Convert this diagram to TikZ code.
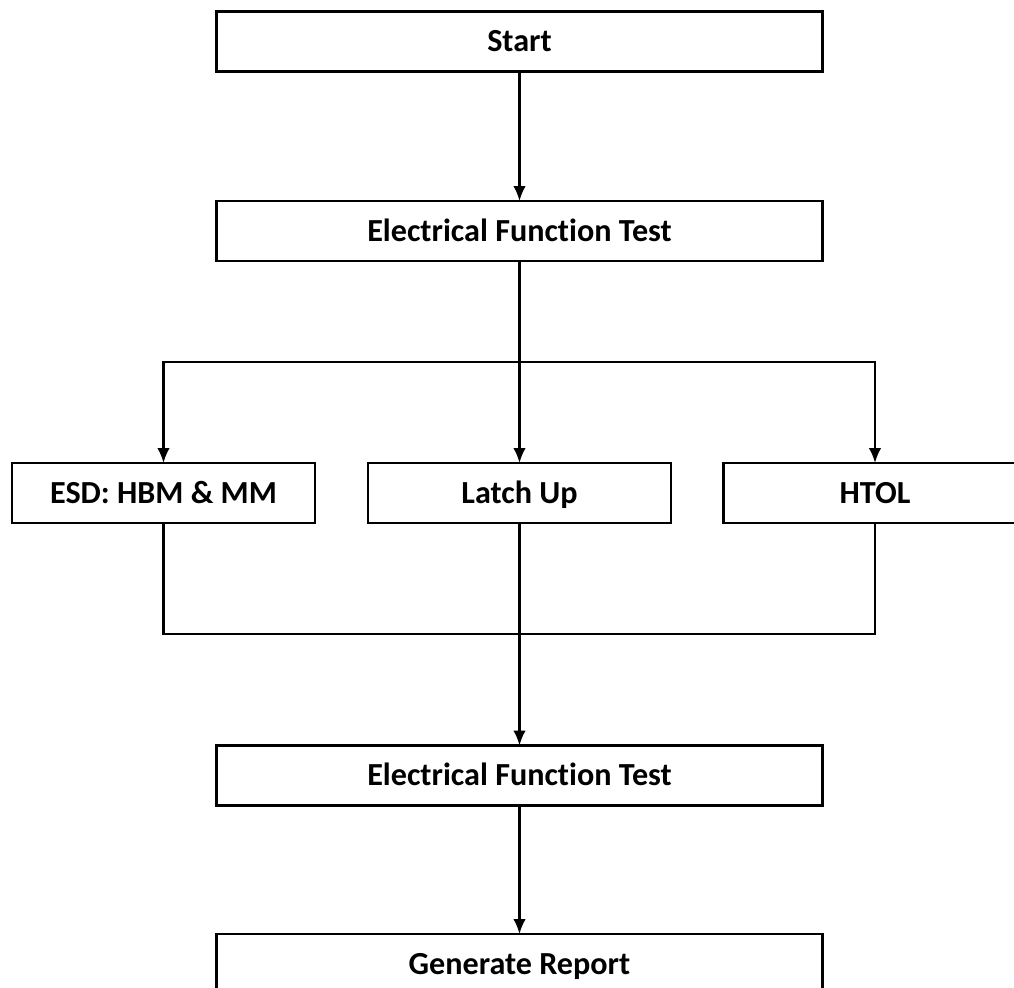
\documentclass[tikz,border=0pt]{standalone}
\usepackage{fontspec}
\setmainfont{Carlito}[Ligatures={NoCommon}]
\usepackage{tikz}
\usetikzlibrary{arrows.meta}

\begin{document}
\begin{tikzpicture}[x=0.02cm, y=-0.02cm,
    box/.style={draw, line width=1.3pt, inner sep=0pt, outer sep=0pt,
      minimum height=1.2cm, text height=11.8pt, text depth=0pt,
      font=\fontsize{18.3}{22}\selectfont\bfseries},
    wide/.style={box, minimum width=12.12cm},
    narrow/.style={box, minimum width=6.06cm},
    >={Latex[length=0.3cm,width=0.25cm]}
  ]
  \useasboundingbox (0,0) rectangle (1014,987);
  \node[wide]   (start)  at (519.5,41.5) {Start};
  \node[wide]   (eft1)   at (519.5,231)  {Electrical Function Test};
  \node[narrow] (esd)    at (163.5,493)  {ESD: HBM \& MM};
  \node[narrow] (latch)  at (519.5,493)  {Latch Up};
  \node[narrow] (htol)   at (875,493)    {HTOL};
  \node[wide]   (eft2)   at (519.5,775.5){Electrical Function Test};
  \node[wide]   (report) at (519.5,964)  {Generate Report};
  \coordinate (split) at (519.5,362);
  \coordinate (merge) at (519.5,634);
  %split and merge
  \path[->,line width=1.2pt]
  (start) edge (eft1)
  (eft1) edge (latch)
  (latch) edge (eft2)
  (eft2) edge (report)
  ;
  \draw[->,line width=1.2pt] (split) -| (esd);
  \draw[->,line width=1.2pt] (split) -| (htol);
  \draw[line width=1.2pt] (esd) |- (merge) -| (htol);
\end{tikzpicture}
\end{document}
